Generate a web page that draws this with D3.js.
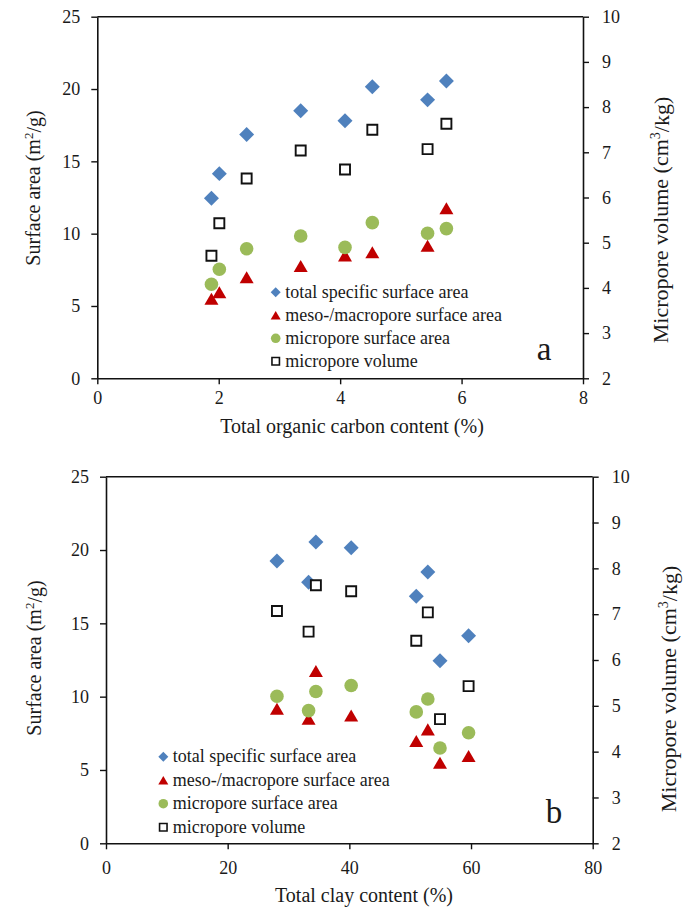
<!DOCTYPE html>
<html>
<head>
<meta charset="utf-8">
<script src="https://cdn.jsdelivr.net/npm/d3@7"></script>
<style>
  html, body { margin: 0; padding: 0; background: #fff; }
  svg { display: block; }
  text { font-family: "Liberation Serif", "Times New Roman", serif; fill: #1a1a1a; }
</style>
</head>
<body>
<svg id="fig" width="688" height="909"></svg>
<script>
// Eight soil samples: organic carbon, clay, and pore-structure measurements
const tocPct       = [1.88, 2.01, 2.46, 3.35, 4.08, 4.53, 5.44, 5.75];
const clayPct      = [54.9, 59.6, 51.0, 52.9, 33.3, 40.3, 28.1, 34.5];
const totalSSA     = [12.45, 14.15, 16.85, 18.5, 17.8, 20.15, 19.25, 20.55];
const mesoMacroSA  = [5.5, 5.95, 6.98, 7.77, 8.5, 8.71, 9.17, 11.75];
const microporeSA  = [6.5, 7.54, 8.96, 9.84, 9.05, 10.76, 10.03, 10.35];
const microporeVol = [4.71, 5.43, 6.42, 7.04, 6.62, 7.5, 7.07, 7.63];

const leftTicks  = [0, 5, 10, 15, 20, 25];
const rightTicks = [2, 3, 4, 5, 6, 7, 8, 9, 10];
const tocTicks   = [0, 2, 4, 6, 8];
const clayTicks  = [0, 20, 40, 60, 80];

const legendLabels = [
  "total specific surface area",
  "meso-/macropore surface area",
  "micropore surface area",
  "micropore volume"
];

// Marker shapes (box-centred, like spreadsheet markers)
const diamond = { draw(ctx, size) { const r = Math.sqrt(size) / 2 * Math.SQRT2;
  ctx.moveTo(0, -r); ctx.lineTo(r, 0); ctx.lineTo(0, r); ctx.lineTo(-r, 0); ctx.closePath(); } };
const triangle = { draw(ctx, size) { const w = Math.sqrt(size); const h = w * 0.86;
  ctx.moveTo(0, -h / 2); ctx.lineTo(w / 2, h / 2); ctx.lineTo(-w / 2, h / 2); ctx.closePath(); } };
const square = { draw(ctx, size) { const s = Math.sqrt(size) / 2;
  ctx.moveTo(-s, -s); ctx.lineTo(s, -s); ctx.lineTo(s, s); ctx.lineTo(-s, s); ctx.closePath(); } };

const styles = [
  { type: diamond,  fill: "#4F81BD", stroke: "none", size: 112, lsize: 50 },
  { type: triangle, fill: "#C00000", stroke: "none", size: 196, lsize: 100 },
  { type: null,     fill: "#9BBB59", stroke: "none", r: 6.8,    lr: 4.8 },
  { type: square,   fill: "#fff",    stroke: "#111", size: 100, lsize: 56 }
];

const svg = d3.select("#fig");

function drawPanel(cfg) {
  const { left, right, top, bottom } = cfg;
  const g = svg.append("g");

  const x  = d3.scaleLinear().domain(cfg.xDomain).range([left, right]);
  const yL = d3.scaleLinear().domain([0, 25]).range([bottom, top]);
  const yR = d3.scaleLinear().domain([2, 10]).range([bottom, top]);

  // top frame line
  g.append("line").attr("x1", left).attr("x2", right).attr("y1", top).attr("y2", top)
    .attr("stroke", "#111").attr("stroke-width", 1.6);

  const styleAxis = (sel, fs) => {
    sel.attr("font-family", "Liberation Serif, serif");
    sel.select(".domain").attr("stroke", "#111").attr("stroke-width", 1.6);
    sel.selectAll(".tick line").attr("stroke", "#111").attr("stroke-width", 1.4);
    sel.selectAll(".tick text").attr("font-size", fs).attr("fill", "#1a1a1a");
  };

  g.append("g").attr("transform", `translate(${left},0)`)
    .call(d3.axisLeft(yL).tickValues(leftTicks).tickSize(6).tickSizeOuter(0).tickPadding(11))
    .call(s => styleAxis(s, 18));
  g.append("g").attr("transform", `translate(${right},0)`)
    .call(d3.axisRight(yR).tickValues(rightTicks).tickSize(6).tickSizeOuter(0).tickPadding(13))
    .call(s => styleAxis(s, 18));
  g.append("g").attr("transform", `translate(0,${bottom})`)
    .call(d3.axisBottom(x).tickValues(cfg.xTicks).tickSize(6).tickSizeOuter(0).tickPadding(cfg.xPad))
    .call(s => styleAxis(s, 18));

  // axis titles
  const lt = g.append("text").attr("text-anchor", "middle").attr("dy", "0.35em")
    .attr("font-size", 20)
    .attr("transform", `translate(${cfg.leftTitle[0]},${cfg.leftTitle[1]}) rotate(-90)`);
  lt.append("tspan").text("Surface area (m");
  lt.append("tspan").attr("font-size", 13).attr("dy", "-0.55em").text("2");
  lt.append("tspan").attr("dy", "0.42em").text("/g)");

  const rt = g.append("text").attr("text-anchor", "middle").attr("dy", "0.35em")
    .attr("font-size", 22)
    .attr("transform", `translate(${cfg.rightTitle[0]},${cfg.rightTitle[1]}) rotate(-90)`);
  rt.append("tspan").text("Micropore volume (cm");
  rt.append("tspan").attr("font-size", 14).attr("dy", "-0.55em").text("3");
  rt.append("tspan").attr("dy", "0.42em").text("/kg)");

  g.append("text").attr("text-anchor", "middle").attr("font-size", 20)
    .attr("x", cfg.xTitle[0]).attr("y", cfg.xTitle[1]).text(cfg.xLabel);

  // data series
  const xs = cfg.xValues;
  const series = [
    { vals: totalSSA, y: yL },
    { vals: mesoMacroSA, y: yL },
    { vals: microporeSA, y: yL },
    { vals: microporeVol, y: yR }
  ];
  series.forEach((s, i) => {
    const st = styles[i];
    const pts = xs.map((v, k) => [x(v), s.y(s.vals[k])]);
    if (st.type === null) {
      g.append("g").selectAll("circle").data(pts).join("circle")
        .attr("cx", d => d[0]).attr("cy", d => d[1]).attr("r", st.r).attr("fill", st.fill);
    } else {
      g.append("g").selectAll("path").data(pts).join("path")
        .attr("transform", d => `translate(${d[0]},${d[1]})`)
        .attr("d", d3.symbol().type(st.type).size(st.size)())
        .attr("fill", st.fill).attr("stroke", st.stroke).attr("stroke-width", 1.9);
    }
  });

  // legend
  const lg = g.append("g");
  legendLabels.forEach((lab, i) => {
    const st = styles[i];
    const cy = cfg.legend[1] + i * cfg.legendStep;
    const mx = cfg.legend[0];
    if (st.type === null) {
      lg.append("circle").attr("cx", mx).attr("cy", cy).attr("r", st.lr).attr("fill", st.fill);
    } else {
      lg.append("path").attr("transform", `translate(${mx},${cy})`)
        .attr("d", d3.symbol().type(st.type).size(st.lsize)())
        .attr("fill", st.fill).attr("stroke", st.stroke).attr("stroke-width", 1.6);
    }
    lg.append("text").attr("x", mx + 9.5).attr("y", cy + 5.5).attr("font-size", 18).text(lab);
  });

  g.append("text").attr("text-anchor", "middle").attr("font-size", 33)
    .attr("x", cfg.letter[0]).attr("y", cfg.letter[1]).text(cfg.letterText);
}

drawPanel({
  left: 97.3, right: 583, top: 16.7, bottom: 378.3,
  xDomain: [0, 8], xTicks: tocTicks, xValues: tocPct, xPad: 7,
  xLabel: "Total organic carbon content (%)",
  leftTitle: [33, 188], rightTitle: [660, 220], xTitle: [352, 433],
  legend: [275.7, 292.3], legendStep: 23,
  letter: [544, 360], letterText: "a"
});

drawPanel({
  left: 106, right: 592.7, top: 476.7, bottom: 843.3,
  xDomain: [0, 80], xTicks: clayTicks, xValues: clayPct, xPad: 12,
  xLabel: "Total clay content (%)",
  leftTitle: [34, 658], rightTitle: [668, 689], xTitle: [364, 902],
  legend: [163.3, 756.7], legendStep: 23.5,
  letter: [554, 823], letterText: "b"
});
</script>
</body>
</html>
